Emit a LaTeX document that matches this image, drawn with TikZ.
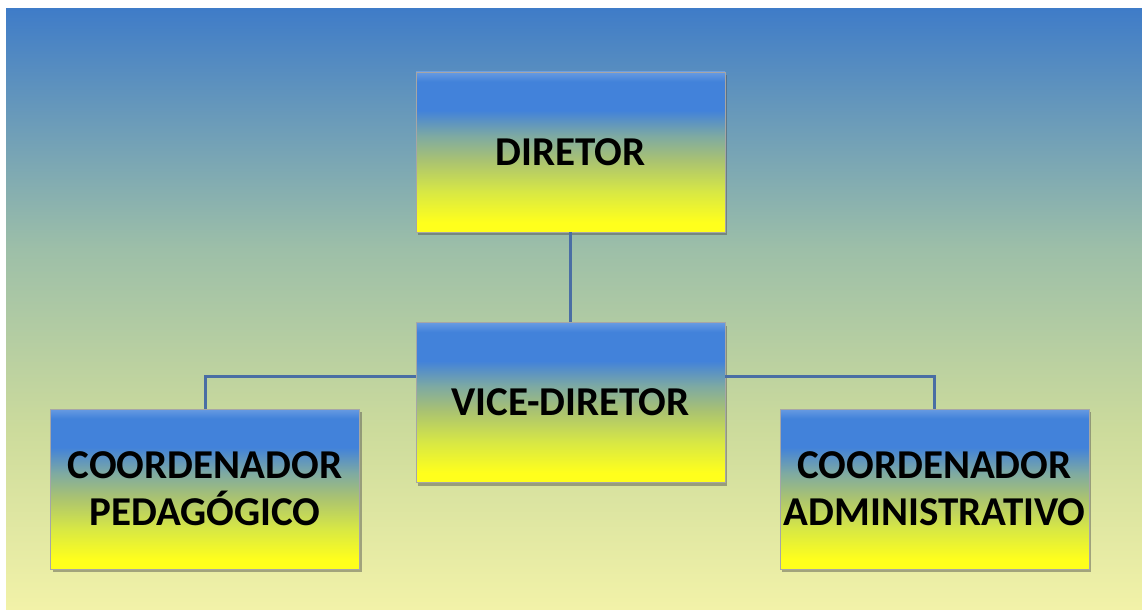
\documentclass[tikz,border=0pt]{standalone}
\usepackage{fontspec}
\setmainfont{Carlito}
\usetikzlibrary{shadows}
\definecolor{bgtop}{HTML}{3F7CC8}
\definecolor{bgmid}{HTML}{9DBFA8}
\definecolor{bglow}{HTML}{CCDB9C}
\definecolor{bgbot}{HTML}{F2F2A8}
\definecolor{bxblue}{HTML}{4282DA}
\definecolor{bxgray}{HTML}{7EAAA2}
\definecolor{bxolive}{HTML}{A9C272}
\definecolor{bxlime}{HTML}{D8E844}
\definecolor{bxyel}{HTML}{FFFF1C}
\definecolor{linecol}{HTML}{4A6EA4}
\pgfdeclareverticalshading{boxshade}{100bp}{color(0bp)=(bxyel); color(28bp)=(bxyel); color(37.5bp)=(bxlime); color(47.5bp)=(bxolive); color(55bp)=(bxgray); color(63bp)=(bxblue); color(72bp)=(bxblue); color(75bp)=(bxblue!80!white); color(100bp)=(bxblue!80!white)}
\pgfdeclareverticalshading{bgshade}{100bp}{color(0bp)=(bgbot); color(25bp)=(bgbot); color(40bp)=(bglow); color(55bp)=(bgmid); color(75bp)=(bgtop); color(100bp)=(bgtop)}
\tikzset{
  orgbox/.style={rectangle, shading=boxshade, draw=black!35, line width=0.8pt,
    minimum width=309pt, minimum height=160pt, inner sep=0pt,
    font=\fontsize{41}{47}\selectfont\bfseries, align=center, text=black,
    drop shadow={shadow xshift=2pt, shadow yshift=-3pt, opacity=0.45, fill=black!70}},
  conn/.style={draw=linecol, line width=3pt}
}
\begin{document}
\begin{tikzpicture}[x=1pt,y=-1pt]
\useasboundingbox (0,0) rectangle (1142,612);
\fill[white] (0,0) rectangle (1142,612);
\shade[shading=bgshade] (6,9) rectangle (1142,609);
\node[orgbox] (dir) at (570.5,152) {DIRETOR};
\node[orgbox] (vice) at (570.5,402.5) {VICE-DIRETOR};
\node[orgbox] (ped) at (205,489) {COORDENADOR\\PEDAG\'OGICO};
\node[orgbox] (adm) at (934.5,489) {COORDENADOR\\ADMINISTRATIVO};
\draw[conn] (dir.south) -- (vice.north);
\draw[conn] (vice.west |- 0,376) -| (ped.north);
\draw[conn] (vice.east |- 0,376) -| (adm.north);
\end{tikzpicture}
\end{document}
